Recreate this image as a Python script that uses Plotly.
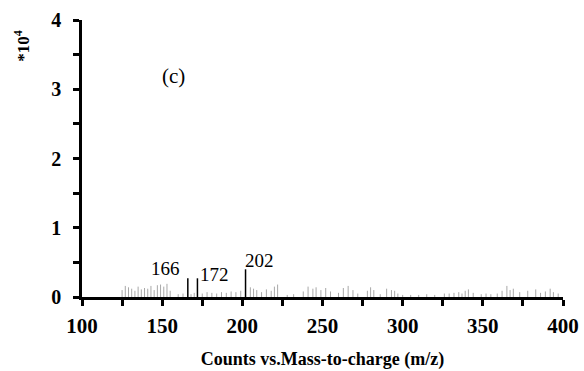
import plotly.graph_objects as go

# Labelled fragment peaks (m/z, intensity in units of 1e4 counts)
peak_mz = [166, 172, 202]
peak_int = [0.27, 0.27, 0.40]
peak_labels = ["166", "172", "202"]

# Background fragment peaks
noise_mz = [125, 127, 129, 131, 133, 135, 137, 139, 141, 143, 145, 147, 149, 151, 153, 155,
            160, 163, 168, 170, 175, 178, 181, 184, 187, 190, 193, 196, 199,
            205, 207, 209, 212, 215, 218, 220, 222,
            228, 232, 238, 241, 244, 246, 249, 252, 255,
            260, 263, 266, 269, 272, 278, 280, 282, 286,
            290, 293, 295, 297, 300, 305, 310, 315, 320,
            326, 329, 332, 335, 337, 339, 341, 344, 349, 352, 355,
            359, 362, 365, 367, 369, 373, 378, 383, 386, 389, 392, 394, 397]
noise_int = [0.10, 0.16, 0.14, 0.12, 0.09, 0.15, 0.11, 0.13, 0.12, 0.16, 0.10, 0.17, 0.18, 0.15, 0.19, 0.09,
             0.04, 0.05, 0.04, 0.06, 0.05, 0.07, 0.06, 0.05, 0.07, 0.06, 0.08, 0.07, 0.09,
             0.14, 0.12, 0.10, 0.07, 0.11, 0.09, 0.15, 0.18,
             0.03, 0.04, 0.08, 0.15, 0.12, 0.14, 0.10, 0.13, 0.08,
             0.06, 0.13, 0.16, 0.10, 0.05, 0.09, 0.14, 0.10, 0.04,
             0.12, 0.10, 0.09, 0.05, 0.03, 0.03, 0.03, 0.04, 0.03,
             0.05, 0.05, 0.06, 0.07, 0.05, 0.09, 0.11, 0.06, 0.04, 0.05, 0.04,
             0.05, 0.09, 0.16, 0.10, 0.12, 0.07, 0.09, 0.11, 0.06, 0.08, 0.12, 0.07, 0.05]

x_ticks = [100, 150, 200, 250, 300, 350, 400]
y_ticks = [0, 1, 2, 3, 4]

SERIF = "Liberation Serif, Times New Roman, serif"


def sticks(mz, inten):
    xs, ys = [], []
    for m, h in zip(mz, inten):
        xs += [m, m, None]
        ys += [0, h, None]
    return xs, ys


fig = go.Figure()
nx, ny = sticks(noise_mz, noise_int)
fig.add_trace(go.Scatter(x=nx, y=ny, mode="lines", line=dict(color="#a8a8a8", width=1),
                         hoverinfo="skip", showlegend=False))
px_, py_ = sticks(peak_mz, peak_int)
fig.add_trace(go.Scatter(x=px_, y=py_, mode="lines", line=dict(color="black", width=1.5),
                         hoverinfo="skip", showlegend=False))

label_font = dict(family=SERIF, size=19, color="black")
anchors = ["right", "left", "left"]
xshifts = [-6, 1, -3]
yshifts = [-3, -9, -4]
for m, h, t, a, sx, sy in zip(peak_mz, peak_int, peak_labels, anchors, xshifts, yshifts):
    fig.add_annotation(x=m, y=h, text=t, showarrow=False, xanchor=a, yanchor="bottom",
                       xshift=sx, yshift=sy, font=label_font)

fig.add_annotation(x=0.163, y=0.848, xref="paper", yref="paper", text="(c)", showarrow=False,
                   font=dict(family=SERIF, size=21, color="black"))
fig.add_annotation(x=-0.125, y=0.972, xref="paper", yref="paper", text="*10<sup>4</sup>",
                   textangle=-90, showarrow=False, xanchor="center", yanchor="top",
                   font=dict(family=SERIF, size=17, color="black", weight="bold"))

fig.update_xaxes(range=[100, 400], tickvals=x_ticks, ticktext=[str(v) for v in x_ticks],
                 showline=True, linecolor="black", linewidth=2.5, ticks="outside", ticklen=6,
                 tickwidth=2.5, tickcolor="black", showgrid=False, zeroline=False,
                 minor=dict(dtick=25, ticks="outside", ticklen=6, tickwidth=2.5, tickcolor="black"),
                 tickfont=dict(family=SERIF, size=21, color="black", weight="bold"),
                 automargin=False, ticklabelstandoff=2,
                 title=dict(text="Counts vs.Mass-to-charge (m/z)", standoff=16,
                            font=dict(family=SERIF, size=18, color="black", weight="bold")))
fig.update_yaxes(range=[0, 4], tickvals=y_ticks, ticktext=[str(v) for v in y_ticks],
                 showline=True, linecolor="black", linewidth=2.5, ticks="outside", ticklen=6,
                 tickwidth=2.5, tickcolor="black", showgrid=False, zeroline=False,
                 minor=dict(dtick=0.5, ticks="outside", ticklen=6, tickwidth=2.5, tickcolor="black"),
                 tickfont=dict(family=SERIF, size=20, color="black", weight="bold"),
                 automargin=False, ticklabelstandoff=8)

fig.update_layout(width=584, height=371, margin=dict(l=82, r=21, t=20, b=74),
                  plot_bgcolor="white", paper_bgcolor="white")

fig.write_html("out.html")
